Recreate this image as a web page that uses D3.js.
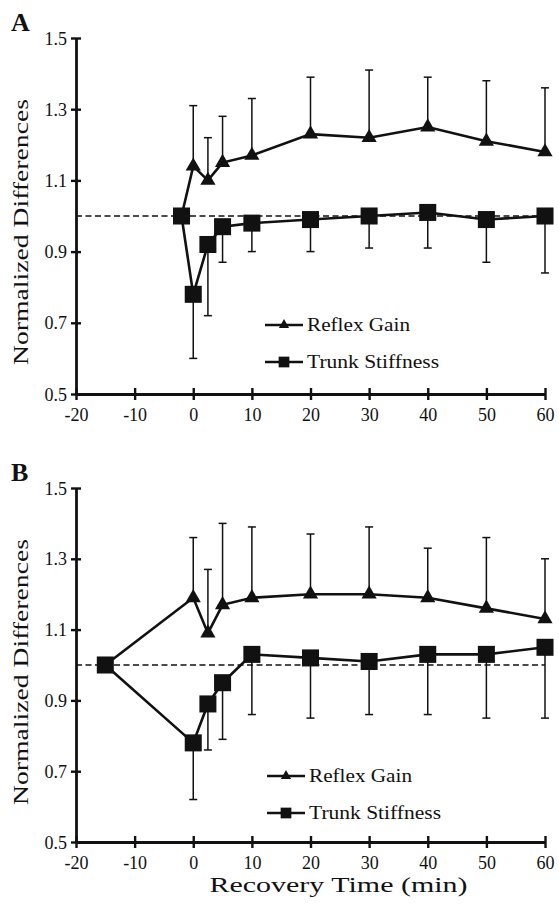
<!DOCTYPE html>
<html>
<head>
<meta charset="utf-8">
<script src="https://cdn.jsdelivr.net/npm/d3@7"></script>
<style>
  html, body { margin: 0; padding: 0; background: #fff; }
  svg { display: block; }
  text { font-family: "Liberation Serif", Tinos, "Times New Roman", Times, "Nimbus Roman", serif; fill: #111; }
</style>
</head>
<body>
<svg id="chart" width="559" height="904"></svg>
<script>
// Recovery time points (min) for each panel
const timesA = [-2, 0, 2.5, 5, 10, 20, 30, 40, 50, 60];
const timesB = [-15, 0, 2.5, 5, 10, 20, 30, 40, 50, 60];

// Panel A: normalized means and one-sided SD bars
const reflexA   = [1.00, 1.14, 1.10, 1.15, 1.17, 1.23, 1.22, 1.25, 1.21, 1.18];
const reflexSdA = [0,    0.17, 0.12, 0.13, 0.16, 0.16, 0.19, 0.14, 0.17, 0.18];
const stiffA    = [1.00, 0.78, 0.92, 0.97, 0.98, 0.99, 1.00, 1.01, 0.99, 1.00];
const stiffSdA  = [0,    0.18, 0.20, 0.10, 0.08, 0.09, 0.09, 0.10, 0.12, 0.16];

// Panel B
const reflexB   = [1.00, 1.19, 1.09, 1.17, 1.19, 1.20, 1.20, 1.19, 1.16, 1.13];
const reflexSdB = [0,    0.17, 0.18, 0.23, 0.20, 0.17, 0.19, 0.14, 0.20, 0.17];
const stiffB    = [1.00, 0.78, 0.89, 0.95, 1.03, 1.02, 1.01, 1.03, 1.03, 1.05];
const stiffSdB  = [0,    0.16, 0.13, 0.16, 0.17, 0.17, 0.15, 0.17, 0.18, 0.20];

// Axis ticks and labels
const xTicks = [-20, -10, 0, 10, 20, 30, 40, 50, 60];
const yTicks = [0.5, 0.7, 0.9, 1.1, 1.3, 1.5];
const seriesNames = ["Reflex Gain", "Trunk Stiffness"];
const panelLetters = ["A", "B"];
const yTitle = "Normalized Differences";
const xTitle = "Recovery Time (min)";
const baseline = 1.0;

const svg = d3.select("#chart");
const ink = "#111";
const serif = '"Liberation Serif", Tinos, "Times New Roman", Times, "Nimbus Roman", serif';

const panels = [
  { letter: panelLetters[0], t: timesA, rg: reflexA, rgSd: reflexSdA, ts: stiffA, tsSd: stiffSdA,
    top: 38, bottom: 394, legendX: 265, legendY: 325, titleCy: 232, showX: false },
  { letter: panelLetters[1], t: timesB, rg: reflexB, rgSd: reflexSdB, ts: stiffB, tsSd: stiffSdB,
    top: 488, bottom: 842, legendX: 267, legendY: 776, titleCy: 672, showX: true }
];

const left = 76, right = 545;

panels.forEach(p => {
  const x = d3.scaleLinear().domain([-20, 60]).range([left, right]);
  const y = d3.scaleLinear().domain([0.5, 1.5]).range([p.bottom, p.top]);
  const g = svg.append("g");

  // reference line at 1.0
  g.append("line")
    .attr("x1", x(-20)).attr("x2", x(60))
    .attr("y1", y(baseline)).attr("y2", y(baseline))
    .attr("stroke", ink).attr("stroke-width", 1.4)
    .attr("stroke-dasharray", "6,3.5");

  // axes
  const yAxis = d3.axisLeft(y).tickValues(yTicks).tickFormat(d => d.toFixed(1))
    .tickSizeInner(0).tickSizeOuter(0).tickPadding(9);
  const xAxis = d3.axisBottom(x).tickValues(xTicks).tickFormat(d => String(d))
    .tickSizeInner(0).tickSizeOuter(0).tickPadding(10);

  const ya = g.append("g").attr("transform", `translate(${left},0)`).call(yAxis);
  const xa = g.append("g").attr("transform", `translate(0,${p.bottom})`).call(xAxis);
  [ya, xa].forEach(a => {
    a.attr("font-family", serif);
    a.select(".domain").attr("stroke", ink).attr("stroke-width", 2.8);
    a.selectAll("text").style("font-size", "18px").attr("fill", ink)
      .style("font-family", serif);
  });
  ya.selectAll(".tick text").attr("dy", "0.34em");
  xa.selectAll(".tick text").attr("dy", "0.95em");
  // crossing tick marks
  ya.selectAll(".tick").append("line")
    .attr("x1", -5).attr("x2", 5).attr("stroke", ink).attr("stroke-width", 2.4);
  xa.selectAll(".tick").append("line")
    .attr("y1", -6).attr("y2", 6).attr("stroke", ink).attr("stroke-width", 2.4);

  const rows = p.t.map((t, i) => ({ t, rg: p.rg[i], rgSd: p.rgSd[i], ts: p.ts[i], tsSd: p.tsSd[i] }));

  // error bars: reflex gain upward, trunk stiffness downward
  const cap = 4;
  const errs = g.append("g").attr("stroke", ink).attr("stroke-width", 1.5);
  rows.filter(d => d.rgSd > 0).forEach(d => {
    errs.append("line").attr("x1", x(d.t)).attr("x2", x(d.t))
      .attr("y1", y(d.rg)).attr("y2", y(d.rg + d.rgSd));
    errs.append("line").attr("x1", x(d.t) - cap).attr("x2", x(d.t) + cap)
      .attr("y1", y(d.rg + d.rgSd)).attr("y2", y(d.rg + d.rgSd));
  });
  rows.filter(d => d.tsSd > 0).forEach(d => {
    errs.append("line").attr("x1", x(d.t)).attr("x2", x(d.t))
      .attr("y1", y(d.ts)).attr("y2", y(d.ts - d.tsSd));
    errs.append("line").attr("x1", x(d.t) - cap).attr("x2", x(d.t) + cap)
      .attr("y1", y(d.ts - d.tsSd)).attr("y2", y(d.ts - d.tsSd));
  });

  // series lines
  const lineRg = d3.line().x(d => x(d.t)).y(d => y(d.rg));
  const lineTs = d3.line().x(d => x(d.t)).y(d => y(d.ts));
  g.append("path").datum(rows).attr("d", lineRg)
    .attr("fill", "none").attr("stroke", ink).attr("stroke-width", 2.6);
  g.append("path").datum(rows).attr("d", lineTs)
    .attr("fill", "none").attr("stroke", ink).attr("stroke-width", 2.6);

  // markers
  const tri = d3.symbol(d3.symbolTriangle, 100);
  const sq = d3.symbol(d3.symbolSquare, 290);
  g.selectAll(".tri").data(rows.slice(1)).join("path")
    .attr("d", tri).attr("fill", ink)
    .attr("transform", d => `translate(${x(d.t)},${y(d.rg)})`);
  g.selectAll(".sq").data(rows).join("path")
    .attr("d", sq).attr("fill", ink)
    .attr("transform", d => `translate(${x(d.t)},${y(d.ts)})`);

  // legend
  const leg = g.append("g");
  const legSyms = [d3.symbol(d3.symbolTriangle, 45), d3.symbol(d3.symbolSquare, 115)];
  seriesNames.forEach((name, i) => {
    const ly = p.legendY + i * 37;
    leg.append("line").attr("x1", p.legendX).attr("x2", p.legendX + 38)
      .attr("y1", ly).attr("y2", ly).attr("stroke", ink).attr("stroke-width", 2.6);
    leg.append("path").attr("d", legSyms[i]()).attr("fill", ink)
      .attr("transform", `translate(${p.legendX + 19},${ly})`);
    leg.append("text").attr("x", p.legendX + 42).attr("y", ly + 6)
      .style("font-size", "19px")
      .attr("textLength", i === 0 ? 103 : 132).attr("lengthAdjust", "spacingAndGlyphs")
      .text(name);
  });

  // y title
  g.append("text")
    .attr("transform", `translate(28,${p.titleCy}) rotate(-90)`)
    .attr("text-anchor", "middle")
    .style("font-size", "20px")
    .attr("textLength", 266).attr("lengthAdjust", "spacingAndGlyphs")
    .text(yTitle);

  // panel letter
  g.append("text")
    .attr("x", 11).attr("y", p.top - 7)
    .style("font-size", "26px").style("font-weight", "bold")
    .text(p.letter);

  if (p.showX) {
    g.append("text")
      .attr("x", (left + right) / 2 + 28).attr("y", 892)
      .attr("text-anchor", "middle")
      .style("font-size", "21px")
      .attr("textLength", 258).attr("lengthAdjust", "spacingAndGlyphs")
      .text(xTitle);
  }
});
</script>
</body>
</html>
